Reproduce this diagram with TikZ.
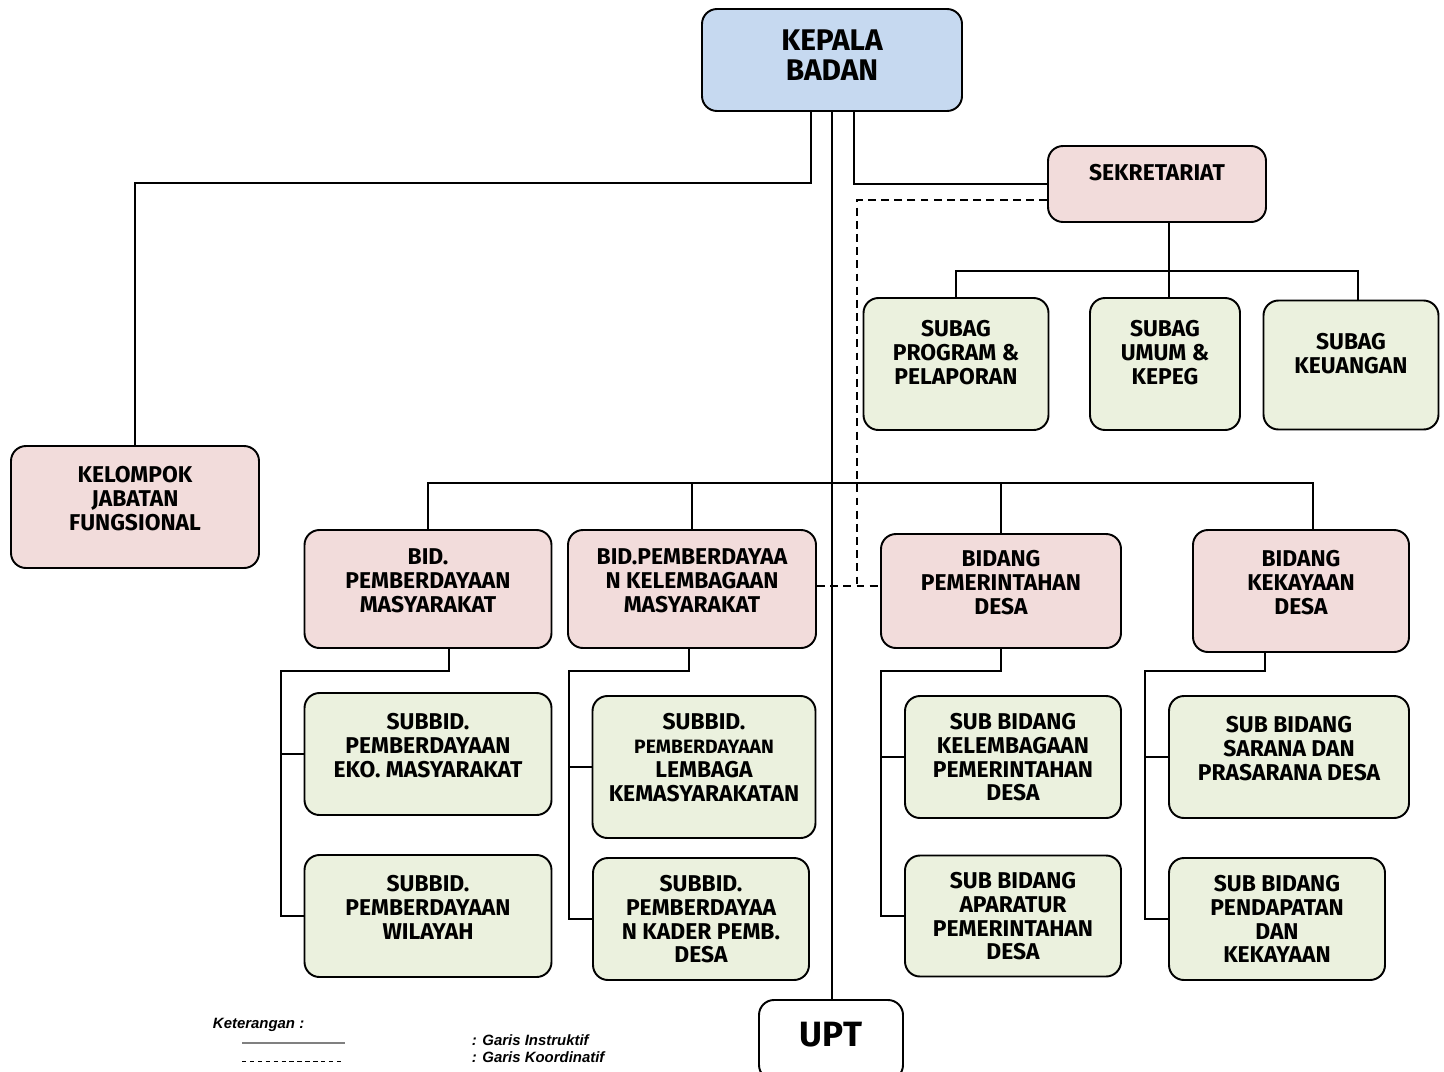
\documentclass[tikz,border=0pt]{standalone}
\usepackage{fontspec}
\setmainfont{Fira Sans}
\newfontfamily\legendfont{Liberation Sans}
\usepackage{xcolor}
\definecolor{kepalablue}{RGB}{198, 217, 240}
\definecolor{bidpink}{RGB}{242, 220, 219}
\definecolor{subgreen}{RGB}{235, 241, 222}
\newcommand{\smallline}{\fontsize{11}{12.5}\selectfont}

\begin{document}
\begin{tikzpicture}[x=0.02cm, y=-0.02cm, line width=1.1pt,
    box/.style={draw, rounded corners=0.3cm, align=center, inner sep=0pt,
      font=\bfseries\fontsize{13}{13.6}\selectfont, text depth=10pt},
    boxsize/.style 2 args={minimum width=#1*0.02cm, minimum height=#2*0.02cm},
    headbox/.style={box, fill=kepalablue},
    bidbox/.style={box, fill=bidpink},
    subbox/.style={box, fill=subgreen},
    coord/.style={dash pattern=on 4.5pt off 3pt, line width=0.9pt},
    legend/.style={font=\legendfont\bfseries\itshape\fontsize{8.5}{10}\selectfont, anchor=base west, inner sep=0pt}]
  \useasboundingbox (0,0) rectangle (1444,1072);

  % Pimpinan
  \node[headbox, boxsize={260}{102}, font=\bfseries\fontsize{17}{17}\selectfont, text depth=6pt] (kepala) at (832,60) {KEPALA\\BADAN};

  % Sekretariat
  \node[bidbox, boxsize={218}{76}, text depth=13pt] (sek) at (1157,184) {SEKRETARIAT};
  \node[subbox, boxsize={185}{132}, text depth=13pt] (sg1) at (956,364) {SUBAG\\PROGRAM \&\\PELAPORAN};
  \node[subbox, boxsize={150}{132}, text depth=13pt] (sg2) at (1165,364) {SUBAG\\UMUM \&\\KEPEG};
  \node[subbox, boxsize={175}{129}, text depth=13pt] (sg3) at (1351,365) {SUBAG\\KEUANGAN};

  % Kelompok jabatan fungsional
  \node[bidbox, boxsize={248}{122}] (kjf) at (135,507) {KELOMPOK\\JABATAN\\FUNGSIONAL};

  % Bidang
  \node[bidbox, boxsize={247}{118}] (bid1) at (428,589) {BID.\\PEMBERDAYAAN\\MASYARAKAT};
  \node[bidbox, boxsize={248}{118}] (bid2) at (692,589) {BID.PEMBERDAYAA\\N KELEMBAGAAN\\MASYARAKAT};
  \node[bidbox, boxsize={240}{114}] (bid3) at (1001,591) {BIDANG\\PEMERINTAHAN\\DESA};
  \node[bidbox, boxsize={216}{122}] (bid4) at (1301,591) {BIDANG\\KEKAYAAN\\DESA};

  % Sub bidang
  \node[subbox, boxsize={247}{122}] (sb1) at (428,754) {SUBBID.\\PEMBERDAYAAN\\EKO. MASYARAKAT};
  \node[subbox, boxsize={247}{122}] (sb2) at (428,916) {SUBBID.\\PEMBERDAYAAN\\WILAYAH};
  \node[subbox, boxsize={223}{142}, text depth=11pt] (sb3) at (704,767) {SUBBID.\\\smallline PEMBERDAYAAN\\LEMBAGA\\KEMASYARAKATAN};
  \node[subbox, boxsize={216}{122}, text depth=0pt] (sb4) at (701,919) {SUBBID.\\PEMBERDAYAA\\N KADER PEMB.\\DESA};
  \node[subbox, boxsize={216}{122}, text depth=0pt] (sb5) at (1013,757) {SUB BIDANG\\KELEMBAGAAN\\PEMERINTAHAN\\DESA};
  \node[subbox, boxsize={216}{121}, text depth=0pt] (sb6) at (1013,916) {SUB BIDANG\\APARATUR\\PEMERINTAHAN\\DESA};
  \node[subbox, boxsize={240}{122}] (sb7) at (1289,757) {SUB BIDANG\\SARANA DAN\\PRASARANA DESA};
  \node[subbox, boxsize={216}{122}, text depth=0pt] (sb8) at (1277,919) {SUB BIDANG\\PENDAPATAN\\DAN\\KEKAYAAN};

  % UPT
  \node[box, fill=white, boxsize={144}{80}, font=\bfseries\fontsize{20}{20}\selectfont, text depth=6pt] (upt) at (831,1040) {UPT};

  % Garis instruktif
  \coordinate (sj) at (1169,271);
  \coordinate (bj) at (833,483);
  \draw (kepala.south) -- (upt.north -| kepala.south);
  \draw ([xshift=-0.42cm]kepala.south) |- (kjf.north |- 0,183) -- (kjf.north);
  \draw ([xshift=0.44cm]kepala.south) |- (sek.west);
  \draw (sek.south -| sj) -- (sj);
  \draw (sg1.north) |- (sj) -| ([xshift=0.14cm]sg3.north);
  \draw (sj) -- (sg2.north -| sj);
  \draw (bid1.north) |- (bj) -| ([xshift=0.24cm]bid4.north);
  \draw (bid2.north) -- (bid2.north |- bj);
  \draw (bid3.north) -- (bid3.north |- bj);
  \foreach \b/\s/\t/\r/\d in {bid1/sb1/sb2/281/0.42, bid2/sb3/sb4/569/-0.06,
      bid3/sb5/sb6/881/0, bid4/sb7/sb8/1145/-0.72}
    \draw ([xshift=\d cm]\b.south) |- (\r,671) |- (\t.west)
      (\s.west) -- (\s.west -| \r,0);

  % Garis koordinatif
  \coordinate (dj) at (857,586);
  \draw[coord] ([yshift=-0.32cm]sek.west) -| (dj);
  \draw[coord] (bid2.east |- dj) -- (bid3.west |- dj);

  % Keterangan
  \node[legend] (ket) at (212,1028) {Keterangan :};
  \node[legend] (instr) at (471,1045) {: Garis Instruktif};
  \node[legend] (koord) at (471,1062) {: Garis Koordinatif};
  \coordinate (ls1) at (242,1043);
  \coordinate (ls2) at (345,1043);
  \coordinate (ld1) at (242,1061);
  \coordinate (ld2) at (342,1061);
  \draw[gray, line width=0.8pt] (ls1) -- (ls2);
  \draw[dash pattern=on 2.5pt off 2pt, line width=0.5pt] (ld1) -- (ld2);
\end{tikzpicture}
\end{document}
